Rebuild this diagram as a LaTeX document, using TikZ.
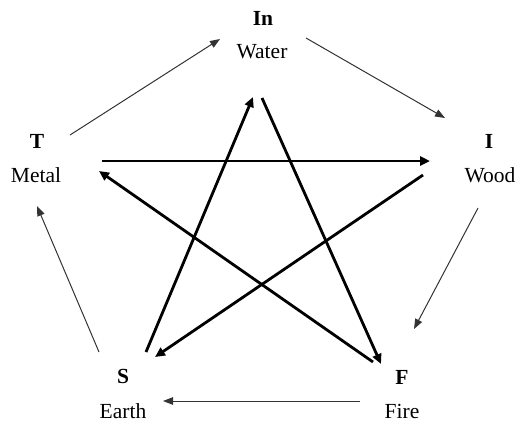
\documentclass[tikz,border=0pt]{standalone}
\usepackage{fontspec}
\setmainfont{Liberation Serif}
\usetikzlibrary{arrows.meta}
\begin{document}
\begin{tikzpicture}[x=1pt,y=-1pt,
  lbl/.style={anchor=base,inner sep=0pt,font=\fontsize{21.5}{25}\selectfont},
  thinarrow/.style={draw=black!80,line width=1pt,-{Triangle[length=10pt,width=7.5pt]}},
  thickarrow/.style={draw=black,line width=2.8pt,-{Triangle[length=10pt,width=9pt]}}]
\useasboundingbox (0,0) rectangle (517,424);
% labels
\node[lbl] (in) at (263,25) {\textbf{In}};
\node[lbl] (water) at (262,58) {Water};
\node[lbl] (t) at (37,148) {\textbf{T}};
\node[lbl] (metal) at (36,182) {Metal};
\node[lbl] (i) at (489,148) {\textbf{I}};
\node[lbl] (wood) at (490,182) {Wood};
\node[lbl] (s) at (123,383) {\textbf{S}};
\node[lbl] (earth) at (123,418) {Earth};
\node[lbl] (f) at (402,384) {\textbf{F}};
\node[lbl] (fire) at (402,418) {Fire};
% outer cycle end points
\coordinate (tA) at (70,135);  \coordinate (inA) at (220,39);
\coordinate (inB) at (306,38); \coordinate (iB) at (445,118);
\coordinate (iC) at (478,208); \coordinate (fC) at (414,329);
\coordinate (fD) at (360,401); \coordinate (sD) at (163,401);
\coordinate (sE) at (99,352);  \coordinate (tE) at (37,206);
% star end points
\coordinate (tS) at (102,161); \coordinate (iS) at (430,161);
\coordinate (iS2) at (423,175); \coordinate (sS) at (155,357);
\coordinate (sS2) at (146,352); \coordinate (inS) at (253,97);
\coordinate (inS2) at (262,98); \coordinate (fS) at (381,364);
\coordinate (fS2) at (373,362); \coordinate (tS2) at (99,171);
% outer cycle
\draw[thinarrow] (tA) -- (inA);
\draw[thinarrow] (inB) -- (iB);
\draw[thinarrow] (iC) -- (fC);
\draw[thinarrow] (fD) -- (sD);
\draw[thinarrow] (sE) -- (tE);
% star
\draw[thickarrow] (tS) -- (iS);
\draw[thickarrow] (iS2) -- (sS);
\draw[thickarrow] (sS2) -- (inS);
\draw[thickarrow] (inS2) -- (fS);
\draw[thickarrow] (fS2) -- (tS2);
\end{tikzpicture}
\end{document}
